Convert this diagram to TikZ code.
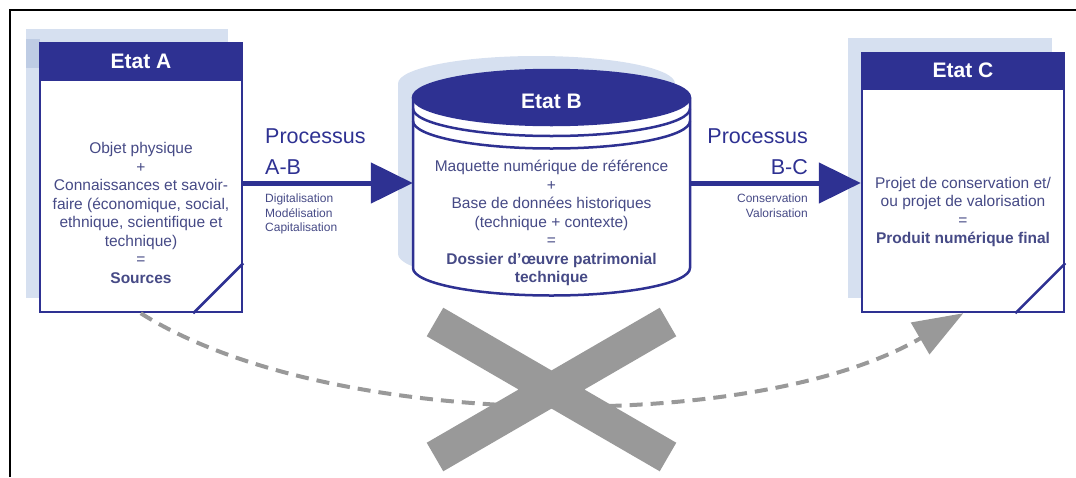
\documentclass[tikz,border=0pt]{standalone}
\usepackage{fontspec}
\setmainfont{Liberation Sans}
\usetikzlibrary{positioning,arrows.meta,calc}

\definecolor{etatblue}{RGB}{46,49,146}
\definecolor{shadowblue}{RGB}{214,224,240}
\definecolor{shadowdark}{RGB}{190,204,228}
\definecolor{textblue}{RGB}{70,74,134}
\definecolor{crossgray}{RGB}{153,153,153}

\begin{document}
\begin{tikzpicture}[x=1pt,y=-1pt]
  \def\boxwidth{202pt}
  \def\cylrx{138.5}
  \def\cylry{27.5}
  \tikzstyle{etat} = [draw=etatblue, line width=2.5pt, fill=white, minimum width=\boxwidth, inner sep=0pt]
  \tikzstyle{head} = [text=white, font=\fontsize{21}{25}\selectfont\bfseries]
  \tikzstyle{body} = [text=textblue, align=center, inner sep=0pt, font=\fontsize{15.5}{18.5}\selectfont]
  \tikzstyle{proc} = [text=etatblue, inner sep=0pt, font=\fontsize{21.5}{31}\selectfont]
  \tikzstyle{sub} = [text=textblue, inner sep=0pt, font=\fontsize{12}{14.5}\selectfont]
  \tikzstyle{flow} = [draw=etatblue, line width=5pt, -{Triangle[length=42pt,width=40pt]}]
  \tikzstyle{dashflow} = [draw=crossgray, line width=4pt, dash pattern=on 13pt off 8pt, -{Triangle[length=50pt,width=36pt]}]

  \useasboundingbox (0,0) rectangle (1076,477);
  \draw[line width=2.5pt] (10,477) -- (10,10) -- (1076,10);

  % shadows
  \fill[shadowblue] (26,29) rectangle (228,298);
  \fill[shadowdark] (26,39) rectangle (40,68);
  \fill[shadowblue] (848,38) rectangle (1052,298);
  \fill[shadowblue] (398,83.5) rectangle (675,254);
  \fill[shadowblue] (536.5,83.5) ellipse [x radius=\cylrx, y radius=\cylry];
  \fill[shadowblue] (536.5,254) ellipse [x radius=\cylrx, y radius=\cylry];

  % Etat A
  \node[etat, minimum height=269pt] (etatA) at (141,177.5) {};
  \fill[etatblue] (etatA.north west) rectangle ($(etatA.north east)+(0,39)$);
  \node[head] (headA) at ($(etatA.north)+(0,19.5)$) {Etat A};
  \draw[etatblue, line width=2.5pt] ($(etatA.south east)+(-50,0)$) -- ($(etatA.south east)+(0,-50)$);
  \node[body] (txtA) at (141,213) {Objet physique\\+\\Connaissances et savoir-\\faire (économique, social,\\ethnique, scientifique et\\technique)\\=\\\textbf{Sources}};

  % Etat B
  \node[minimum width=277pt, minimum height=170pt, inner sep=0pt] (etatB) at (551.5,183) {};
  \filldraw[fill=white, draw=etatblue, line width=2.5pt] (413,97.5) -- (413,268) arc[start angle=180, end angle=0, x radius=\cylrx, y radius=\cylry] -- (690,97.5);
  \filldraw[fill=etatblue, draw=etatblue, line width=2.5pt] (551.5,97.5) ellipse [x radius=\cylrx, y radius=\cylry];
  \draw[etatblue, line width=2.5pt] (413,108.5) arc[start angle=180, end angle=0, x radius=\cylrx, y radius=\cylry];
  \draw[etatblue, line width=2.5pt] (413,121) arc[start angle=180, end angle=0, x radius=\cylrx, y radius=\cylry];
  \node[head] (headB) at (551.5,101) {Etat B};
  \node[body] (txtB) at (551.5,223) {Maquette numérique de référence\\+\\Base de données historiques\\(technique + contexte)\\=\\\textbf{Dossier d’œuvre patrimonial}\\\textbf{technique}};

  % Etat C
  \node[etat, minimum height=259pt] (etatC) at (963,182.5) {};
  \fill[etatblue] (etatC.north west) rectangle ($(etatC.north east)+(0,38)$);
  \node[head] (headC) at ($(etatC.north)+(0,19)$) {Etat C};
  \draw[etatblue, line width=2.5pt] ($(etatC.south east)+(-50,0)$) -- ($(etatC.south east)+(0,-50)$);
  \node[body] (txtC) at (963,212) {Projet de conservation et/\\ou projet de valorisation\\=\\\textbf{Produit numérique final}};

  % processus
  \draw[flow] (etatA.east |- etatB.west) -- (etatB.west);
  \draw[flow] (etatB.east) -- (etatC.west |- etatB.east);
  \node[proc, align=left, anchor=north west] (procAB) at (265,129) {Processus\\A-B};
  \node[sub, align=left, anchor=north west] (subAB) at (265,194) {Digitalisation\\Modélisation\\Capitalisation};
  \node[proc, align=right, anchor=north east] (procBC) at (808,129) {Processus\\B-C};
  \node[sub, align=right, anchor=north east] (subBC) at (808,194) {Conservation\\Valorisation};

  % direct path A -> C, crossed out
  \coordinate (fromA) at ($(etatA.south west)+(102,0)$);
  \coordinate (toC) at ($(etatC.south east)+(-102,0)$);
  \draw[dashflow] (fromA) .. controls +(189,119) and +(-207,121) .. (toC);
  \draw[crossgray, line width=33pt] (435,322) -- (668,457) (435,457) -- (668,322);

\end{tikzpicture}
\end{document}
